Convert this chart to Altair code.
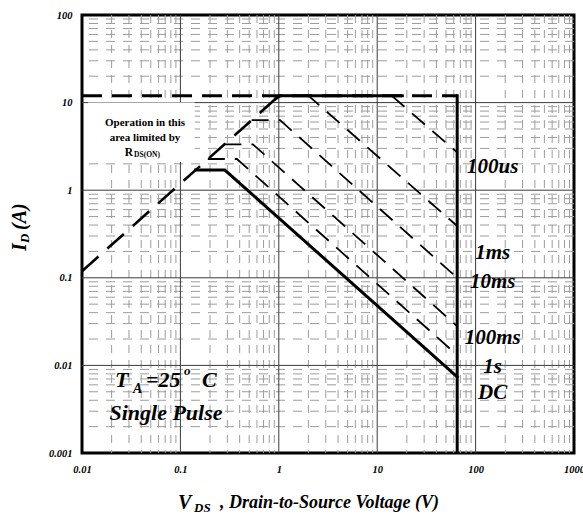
import altair as alt
import pandas as pd

SERIF = "Liberation Serif"

# ---- axis ranges and gridline positions ----
x_domain = [0.01, 1000]
y_domain = [0.001, 100]
x_major = [0.01, 0.1, 1, 10, 100, 1000]
y_major = [0.001, 0.01, 0.1, 1, 10, 100]
x_minor = [m * d for d in [0.01, 0.1, 1, 10, 100] for m in range(2, 10)]
y_minor = [m * d for d in [0.001, 0.01, 0.1, 1, 10] for m in range(2, 10)]

# ---- safe operating area boundaries (V_DS in volts, I_D in amps) ----
# R_DS(on) limit
rds_v = [0.01, 1.0]
rds_i = [0.119, 11.9]
# pulsed drain current ceiling
idm_v = [0.01, 65]
idm_i = [12, 12]
# solid outline pieces
top_v = [0.93, 1.03, 18]
top_i = [11.1, 12, 12]
vmax_v = [65, 65]
vmax_i = [12, 0.001]
dc_v = [0.143, 0.283, 65]
dc_i = [1.7, 1.7, 0.0074]
# single-pulse curves
us100_v = [14.0, 65]
us100_i = [12, 2.7]
ms1_v = [1.0, 2.0, 65]
ms1_i = [12, 12, 0.39]
ms10_v = [0.53, 1.03, 65]
ms10_i = [6.3, 6.3, 0.1]
ms100_v = [0.28, 0.545, 65]
ms100_i = [3.34, 3.34, 0.028]
s1_v = [0.19, 0.375, 65]
s1_i = [2.27, 2.27, 0.0131]

# ---- curve labels ----
label_text = ["100us", "1ms", "10ms", "100ms", "1s", "DC"]
label_v = [149, 149, 149, 149, 149, 149]
label_i = [1.84, 0.192, 0.0895, 0.0206, 0.0096, 0.00484]

# ---- R_DS(on) note box ----
box_v = [0.0115, 0.14]
box_i = [2.1, 10]
note_text = ["Operation in this", "area limited by"]
note_v = [0.0437, 0.0437]
note_i = [5.85, 3.94]


def curve_table(groups):
    rows = []
    for name, vs, is_ in groups:
        for k, (v, i) in enumerate(zip(vs, is_)):
            rows.append({"curve": name, "v": v, "i": i, "k": k})
    return pd.DataFrame(rows)


xs = alt.Scale(type="log", domain=x_domain, nice=False)
ys = alt.Scale(type="log", domain=y_domain, nice=False)

x_axis = alt.Axis(values=x_major, format="~g", grid=False, ticks=False, domain=False,
                  labelFont=SERIF, labelFontSize=10.5, labelFontWeight="bold",
                  labelFontStyle="italic", labelColor="black", labelPadding=11,
                  labelFlush=False, labelOverlap=False)
y_axis = alt.Axis(values=y_major, format="~g", grid=False, ticks=False, domain=False,
                  labelFont=SERIF, labelFontSize=10.5, labelFontWeight="bold",
                  labelFontStyle="italic", labelColor="black", labelPadding=10,
                  labelFlush=False, labelOverlap=False)


def X(field="v"):
    return alt.X(f"{field}:Q", scale=xs, axis=x_axis, title=None)


def Y(field="i"):
    return alt.Y(f"{field}:Q", scale=ys, axis=y_axis, title=None)


# gridlines
grid_x_minor = alt.Chart(pd.DataFrame({"v": x_minor})).mark_rule(
    color="#9c9c9c", strokeWidth=1, strokeDash=[8, 7]).encode(x=X())
grid_y_minor = alt.Chart(pd.DataFrame({"i": y_minor})).mark_rule(
    color="#9c9c9c", strokeWidth=1, strokeDash=[9, 8]).encode(y=Y())
grid_x_major = alt.Chart(pd.DataFrame({"v": x_major[1:-1]})).mark_rule(
    color="#3a3a3a", strokeWidth=1).encode(x=X())
grid_y_major = alt.Chart(pd.DataFrame({"i": y_major[1:-1]})).mark_rule(
    color="#3a3a3a", strokeWidth=1).encode(y=Y())

# white panel behind the R_DS(on) note
box = alt.Chart(pd.DataFrame({"v": [box_v[0]], "v2": [box_v[1]],
                              "i": [box_i[0]], "i2": [box_i[1]]})).mark_rect(
    color="white").encode(x=X(), x2="v2:Q", y=Y(), y2="i2:Q")

note = alt.Chart(pd.DataFrame({"v": note_v, "i": note_i, "t": note_text})).mark_text(
    font=SERIF, fontSize=11, fontWeight="bold", color="black", align="center",
    baseline="middle").encode(x=X(), y=Y(), text="t:N")
note_r = alt.Chart(pd.DataFrame({"v": [0.0272], "i": [2.63], "t": ["R"]})).mark_text(
    font=SERIF, fontSize=11.5, fontWeight="bold", color="black", align="left",
    baseline="middle").encode(x=X(), y=Y(), text="t:N")
note_sub = alt.Chart(pd.DataFrame({"v": [0.0338], "i": [2.52], "t": ["DS(ON)"]})).mark_text(
    font=SERIF, fontSize=7.5, fontWeight="bold", color="black", align="left",
    baseline="middle").encode(x=X(), y=Y(), text="t:N")

# SOA curves
rds_df = curve_table([("rds", rds_v, rds_i)])
idm_df = curve_table([("idm", idm_v, idm_i)])
solid_df = curve_table([("top", top_v, top_i), ("vmax", vmax_v, vmax_i), ("dc", dc_v, dc_i)])
pulse_df = curve_table([("100us", us100_v, us100_i), ("1ms", ms1_v, ms1_i),
                        ("10ms", ms10_v, ms10_i), ("100ms", ms100_v, ms100_i),
                        ("1s", s1_v, s1_i)])


def lines(df, **kw):
    return alt.Chart(df).mark_line(color="black", clip=True, **kw).encode(
        x=X(), y=Y(), detail="curve:N", order="k:Q")


rds_line = lines(rds_df, strokeWidth=2.6, strokeDash=[22, 12])
idm_line = lines(idm_df, strokeWidth=3, strokeDash=[20, 10])
solid_line = lines(solid_df, strokeWidth=3, strokeCap="square")
pulse_line = lines(pulse_df, strokeWidth=1.8, strokeDash=[17, 10])

labels = alt.Chart(pd.DataFrame({"v": label_v, "i": label_i, "t": label_text})).mark_text(
    font=SERIF, fontSize=21, fontWeight="bold", fontStyle="italic", color="black",
    align="center", baseline="middle").encode(x=X(), y=Y(), text="t:N")


def piece(text, x, y, size, align="left", angle=0):
    kw = dict(font=SERIF, fontSize=size, fontWeight="bold", fontStyle="italic",
              color="black", align=align, baseline="middle", text=text)
    if angle:
        kw["angle"] = angle
    return alt.Chart(pd.DataFrame({"a": [0]})).mark_text(**kw).encode(
        x=alt.value(x), y=alt.value(y))


# conditions note
cond = [
    piece("T", 33, 365, 22),
    piece("A", 51, 374, 14),
    piece("=25", 64, 365, 22),
    piece("o", 102, 356, 13),
    piece("C", 120, 365, 22),
    piece("Single Pulse", 84, 398, 22, align="center"),
]

# axis titles
titles = [
    piece("V", 96, 488, 20),
    piece("DS", 112, 493, 13),
    piece(", Drain-to-Source Voltage (V)", 138, 488, 18),
    piece("I", -62, 236, 20, angle=270),
    piece("D", -57, 228, 13, angle=270),
    piece("(A)", -62, 215, 20, angle=270),
]

chart = alt.layer(
    grid_y_minor, grid_x_minor, grid_x_major, grid_y_major, box, note, note_r, note_sub,
    pulse_line, rds_line, idm_line, solid_line, labels, *cond, *titles
).properties(
    width=492, height=438,
    padding={"left": 82, "top": 15, "right": 9, "bottom": 64},
    autosize=alt.AutoSizeParams(type="none"),
    background="white",
).configure_view(stroke="black", strokeWidth=3)

chart.save("out.html", embed_options={"renderer": "svg", "actions": False})
